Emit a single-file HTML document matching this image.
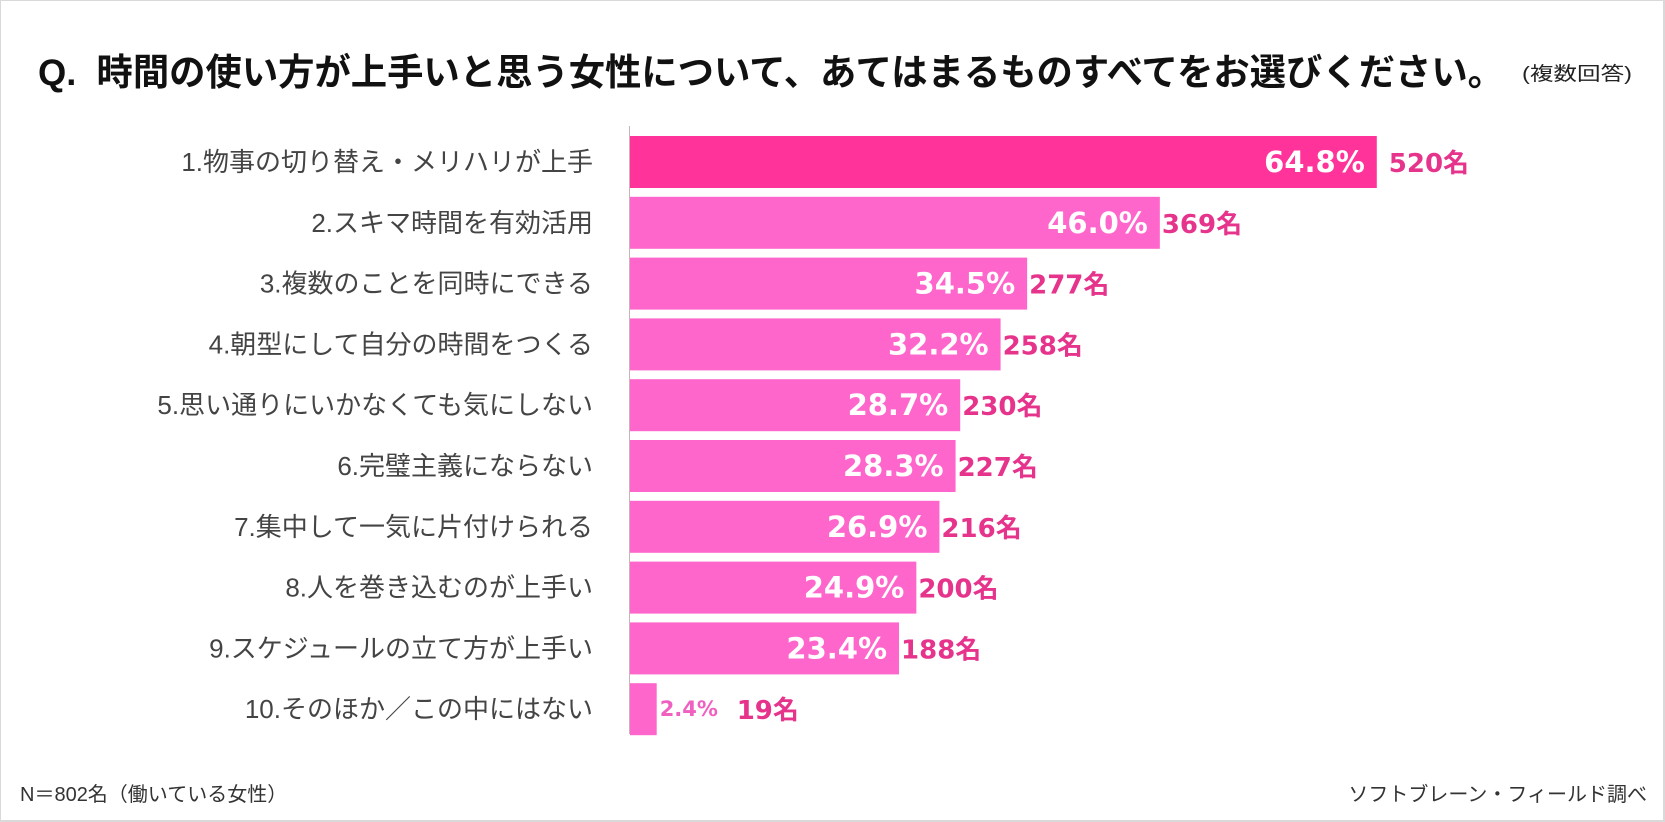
<!DOCTYPE html>
<html><head><meta charset="utf-8">
<style>
html,body{margin:0;padding:0;background:#fff;}
#wrap{width:1665px;height:822px;position:relative;overflow:hidden;box-sizing:border-box;border:2px solid #d9d9d9;border-top-width:1px;border-left-width:1px;background:#fff;}
svg{position:absolute;left:0;top:0;}
text{font-family:"Liberation Sans","Noto Sans CJK JP",sans-serif;}
</style></head>
<body>
<div id="wrap">
<svg id="chart" width="1665" height="822">
  <text x="37" y="84" font-size="37" font-weight="bold" fill="#111" textLength="1466" lengthAdjust="spacingAndGlyphs">Q.&#160;&#160;時間の使い方が上手いと思う女性について、あてはまるものすべてをお選びください。</text>
  <text x="1521" y="79" font-size="19" fill="#222" textLength="110" lengthAdjust="spacingAndGlyphs">(複数回答)</text>
  <line x1="628.5" y1="125" x2="628.5" y2="733" stroke="#c9b3bd" stroke-width="1"/>
  <g id="bars"></g>
  <text x="19" y="800" font-size="20" fill="#333">N＝802名（働いている女性）</text>
  <text x="1646" y="800" font-size="20" fill="#333" text-anchor="end">ソフトブレーン・フィールド調べ</text>
</svg>
</div>
<script>
const categories = ["1.物事の切り替え・メリハリが上手","2.スキマ時間を有効活用","3.複数のことを同時にできる","4.朝型にして自分の時間をつくる","5.思い通りにいかなくても気にしない","6.完璧主義にならない","7.集中して一気に片付けられる","8.人を巻き込むのが上手い","9.スケジュールの立て方が上手い","10.そのほか／この中にはない"];
const percents = [64.8,46.0,34.5,32.2,28.7,28.3,26.9,24.9,23.4,2.4];
const counts = [520,369,277,258,230,227,216,200,188,19];

const NS="http://www.w3.org/2000/svg";
const x0=628, pxPer=11.54;
const xScale=v=>x0+v*pxPer;
const rowY=i=>135+i*60.8;
const barH=52;
const g=document.getElementById('bars');
function mk(tag,attrs){const e=document.createElementNS(NS,tag);for(const k in attrs)e.setAttribute(k,attrs[k]);return e;}
categories.forEach((c,i)=>{
  const y=rowY(i), xe=xScale(percents[i]), cy=y+barH/2;
  const lab=mk('text',{x:592,y:cy+9,'font-size':26,fill:'#444','text-anchor':'end'});
  
  
  lab.textContent=c;g.appendChild(lab);
  const r=mk('rect',{x:x0+1,y:y,width:xe-x0-1,height:barH,fill:i===0?'#ff3399':'#ff66cc'});
  
  
  g.appendChild(r);
  const inside=percents[i]>10;
  const pt=mk('text',{x:inside?xe-12:xe+3,y:cy+(inside?10:7),'font-size':inside?29:21,'font-weight':'bold',fill:inside?'#fff':'#f060c0','text-anchor':inside?'end':'start',style:'font-family:"DejaVu Sans",sans-serif'});
  
  
  pt.textContent=percents[i].toFixed(1)+'%';g.appendChild(pt);
  const gap=i===0?12:(inside?2:80);
  const ct=mk('text',{x:xe+gap,y:cy+10,'font-size':26,'font-weight':'bold',fill:'#e6338c',style:'font-family:"DejaVu Sans","Noto Sans CJK JP",sans-serif'});
  
  
  ct.textContent=counts[i]+'名';g.appendChild(ct);
});
</script>
</body></html>
